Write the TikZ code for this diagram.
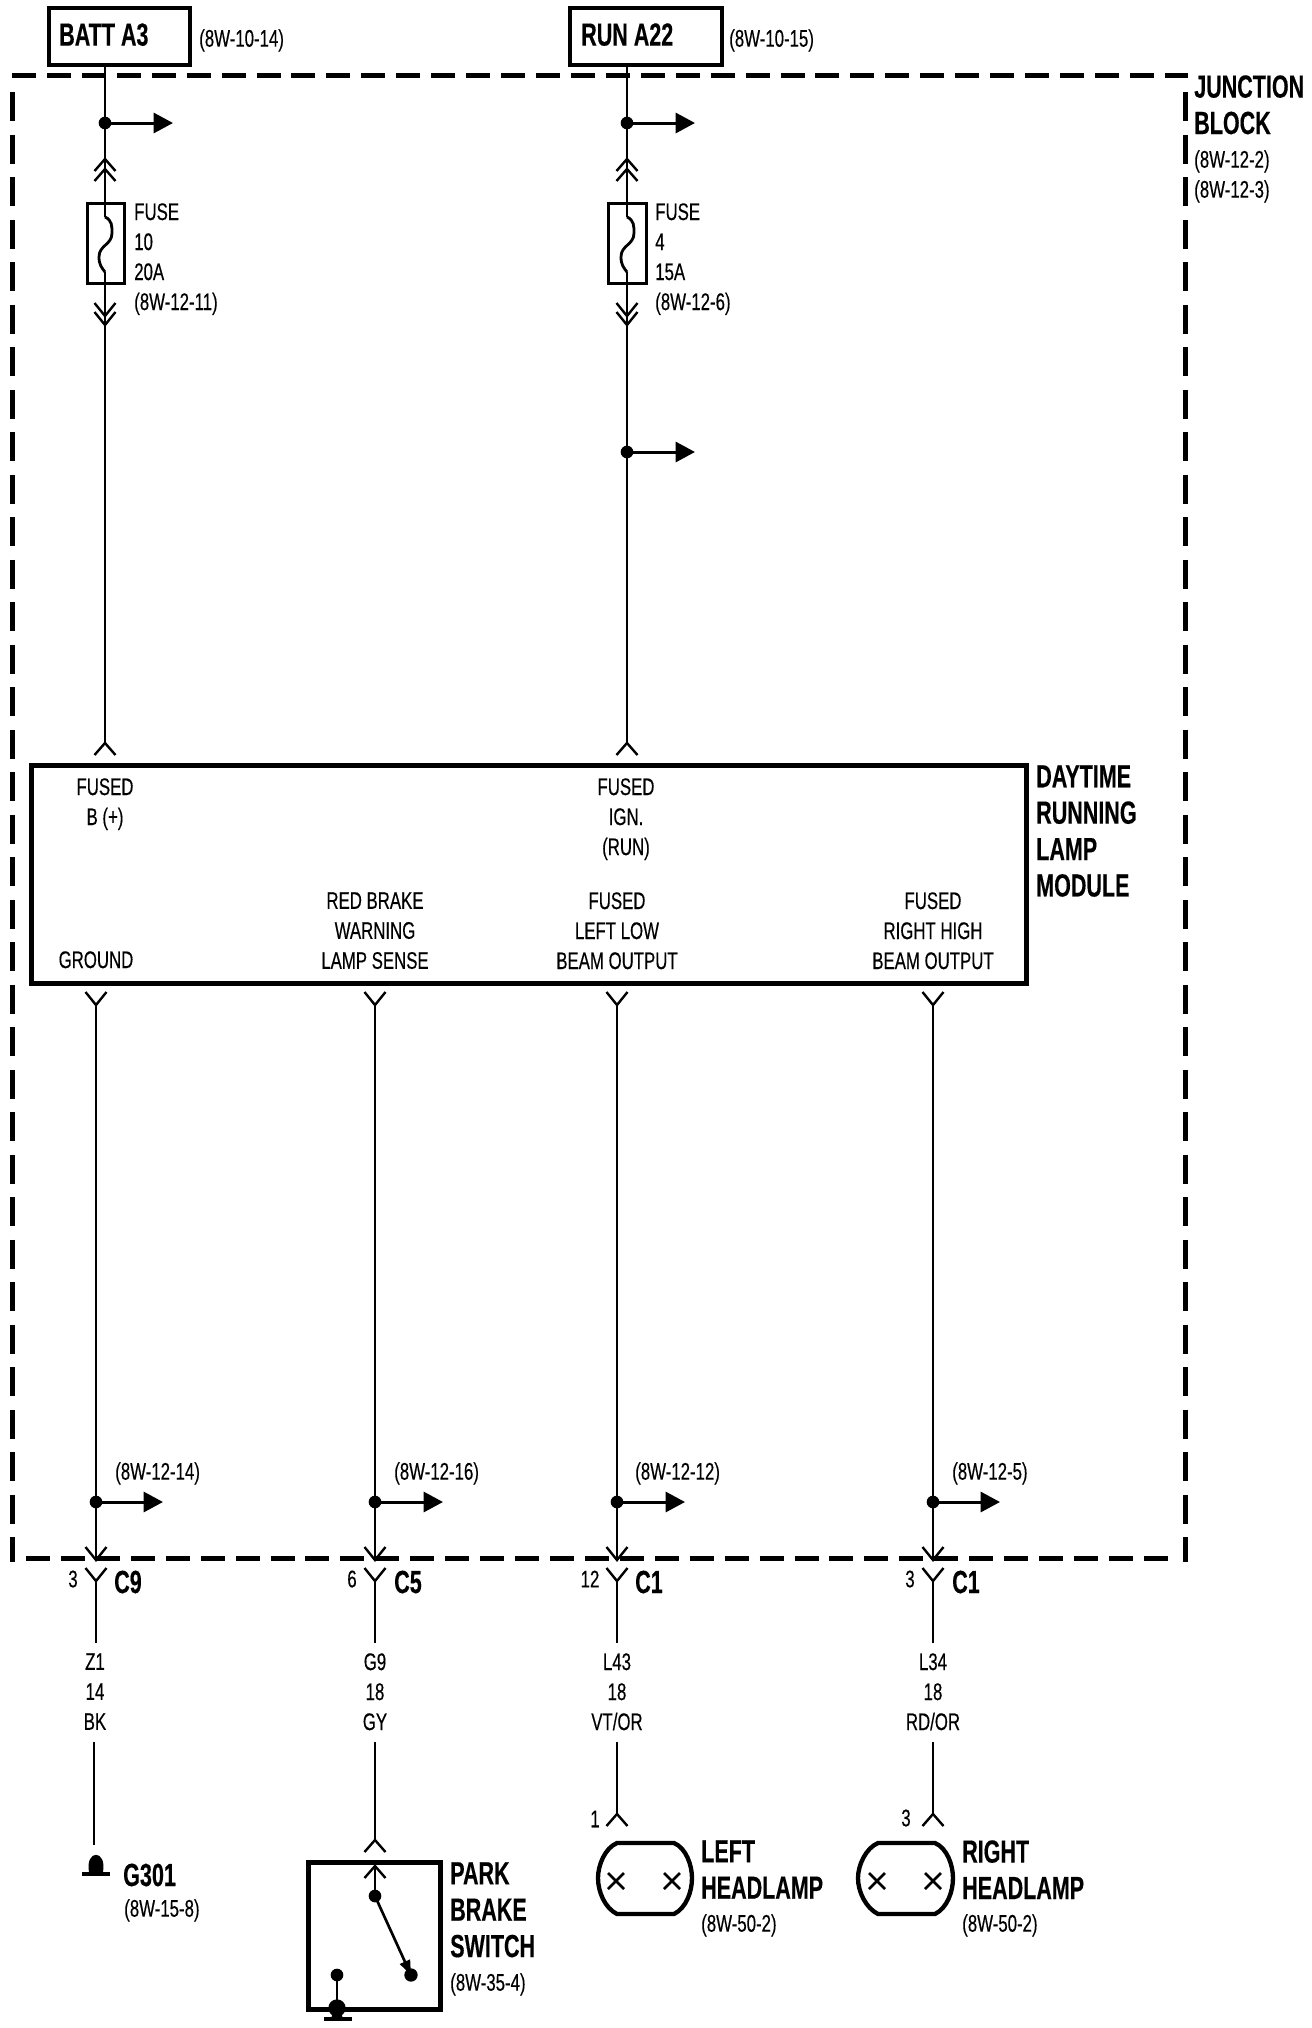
\documentclass[tikz,border=0pt]{standalone}
\usepackage{fontspec}
\usetikzlibrary{arrows.meta}
\newfontfamily\nar[FakeStretch=0.7,FakeBold=0.35]{Liberation Sans}
\newfontfamily\narh[FakeStretch=0.672,FakeBold=0.3]{Liberation Sans}
\newcommand{\forkUp}[2]{\draw[fork] (#1-10.5,#2+12) -- (#1,#2) -- (#1+10.5,#2+12);}
\newcommand{\forkDn}[2]{\draw[fork] (#1-10.5,#2-13) -- (#1,#2) -- (#1+10.5,#2-13);}
\tikzset{
  wire/.style={line width=2.1pt,line join=miter},
  fork/.style={line width=1.8pt,line join=miter},
  thinw/.style={line width=2pt},
  box/.style={draw,inner sep=0,outer sep=0,line width=#1},
  jdot/.style={circle,fill=black,inner sep=0,minimum size=9.5pt},
  tap/.style={line width=2.25pt,-{Triangle[length=14.5pt,width=15pt]}},
  lab/.style={font=\nar\fontsize{18}{22.5}\selectfont,inner sep=0,align=center},
  labl/.style={lab,align=left,anchor=north west},
  hd/.style={font=\narh\bfseries\fontsize{24}{27.3}\selectfont,inner sep=0,align=left,anchor=north west},
  dashH/.style={line width=3.75pt,dash pattern=on 18pt off 8.2pt},
  dashV/.style={line width=3.75pt,dash pattern=on 21.75pt off 10.125pt},
}
\begin{document}
\begin{tikzpicture}[x=0.75pt,y=-0.75pt]
\useasboundingbox (0,0) rectangle (1312,2028);
\fill[white] (0,0) rectangle (1312,2028);
% junction block outline
\draw[dashH] (12,75) -- (1188,75);
\draw[dashV] (12,92) -- (12,1562);
\draw[dashV] (1185,92) -- (1185,1562);
\draw[dashH] (26,1558) -- (1170,1558);
% top boxes
\node[box=2.75pt,minimum width=105.75pt,minimum height=42.75pt] (batt) at (119.5,36.5) {};
\node[box=2.75pt,minimum width=114pt,minimum height=42.75pt] (run) at (646,36.5) {};
\node[hd] (battt) at (59,23) {BATT A3};
\node[hd] (runt) at (581,23) {RUN A22};
\node[labl] (battr) at (199,29) {(8W-10-14)};
\node[labl] (runr) at (729,29) {(8W-10-15)};
% fuses
\node[box=2.25pt,minimum width=27.75pt,minimum height=60pt] (fuse1) at (105.5,243) {};
\node[box=2.25pt,minimum width=28.5pt,minimum height=60pt] (fuse2) at (627,243) {};
\node[labl] (fl1) at (134,203) {FUSE\\10\\20A\\(8W-12-11)};
\node[labl] (fl2) at (655,203) {FUSE\\4\\15A\\(8W-12-6)};
% module
\node[box=3.75pt,minimum width=746.25pt,minimum height=163.5pt] (mod) at (528.5,874) {};
\node[lab,anchor=north] (m1) at (105,778) {FUSED\\B (+)};
\node[lab,anchor=north] (m2) at (626,778) {FUSED\\IGN.\\(RUN)};
\node[lab,anchor=north] (m3) at (96,951) {GROUND};
\node[lab,anchor=north] (m4) at (375,892) {RED BRAKE\\WARNING\\LAMP SENSE};
\node[lab,anchor=north] (m5) at (617,892) {FUSED\\LEFT LOW\\BEAM OUTPUT};
\node[lab,anchor=north] (m6) at (933,892) {FUSED\\RIGHT HIGH\\BEAM OUTPUT};
\node[hd] (modt) at (1036,765) {DAYTIME\\RUNNING\\LAMP\\MODULE};
\node[hd] (jb) at (1194,75) {JUNCTION\\BLOCK};
\node[labl] (jbr) at (1194,150) {(8W-12-2)\\(8W-12-3)};
% dots
\node[jdot] (d1) at (105,123) {};
\node[jdot] (d2) at (627,123) {};
\node[jdot] (d3) at (627,452) {};
\node[jdot] (e1) at (96,1502) {};
\node[jdot] (e2) at (375,1502) {};
\node[jdot] (e3) at (617,1502) {};
\node[jdot] (e4) at (933,1502) {};
\coordinate (t1) at (173,123);
\coordinate (t2) at (695,123);
\coordinate (t3) at (695,452);
\coordinate (u1) at (163,1502);
\coordinate (u2) at (443,1502);
\coordinate (u3) at (685,1502);
\coordinate (u4) at (1000,1502);
\foreach \a/\b in {d1/t1,d2/t2,d3/t3,e1/u1,e2/u2,e3/u3,e4/u4}{\draw[tap] (\a.center) -- (\b);}
% top wires
\coordinate (fa1) at (105,217); \coordinate (fb1) at (105,272); \coordinate (ap1) at (105,743);
\coordinate (fa2) at (627,217); \coordinate (fb2) at (627,272); \coordinate (ap2) at (627,743);
\draw[wire] (d1 |- batt.south) -- (d1.center) -- (fa1);
\draw[wire] (fb1) -- (ap1);
\draw[wire] (d2 |- run.south) -- (d2.center) -- (fa2);
\draw[wire] (fb2) -- (d3.center) -- (ap2);
\foreach \x in {105,627}{
  \draw[wire] (\x,217) .. controls (\x+7,220) and (\x+7,226) .. (\x+7,233) .. controls (\x+7,245) and (\x-6,245) .. (\x-6,257) .. controls (\x-6,265) and (\x-3,268) .. (\x,272);
  \forkUp{\x}{159}\forkUp{\x}{169}
  \forkDn{\x}{325}\forkDn{\x}{316}
  \forkUp{\x}{743}
}
% lower wires
\foreach \x in {96,375,617,933}{
  \forkDn{\x}{1005}
  \forkDn{\x}{1560}
  \forkDn{\x}{1581}
}
\draw[wire] (96,1005) -- (e1.center) -- (96,1560);
\draw[wire] (375,1005) -- (e2.center) -- (375,1560);
\draw[wire] (617,1005) -- (e3.center) -- (617,1560);
\draw[wire] (933,1005) -- (e4.center) -- (933,1560);
\draw[wire] (96,1581) -- (96,1643);
\draw[wire] (375,1581) -- (375,1643);
\draw[wire] (617,1581) -- (617,1643);
\draw[wire] (933,1581) -- (933,1643);
% page refs
\node[labl] (r1) at (115,1462) {(8W-12-14)};
\node[labl] (r2) at (394,1462) {(8W-12-16)};
\node[labl] (r3) at (635,1462) {(8W-12-12)};
\node[labl] (r4) at (952,1462) {(8W-12-5)};
% pins and connectors
\node[lab] (p1) at (73,1579) {3};
\node[lab] (p2) at (352,1579) {6};
\node[lab] (p3) at (590,1579) {12};
\node[lab] (p4) at (910,1579) {3};
\node[hd,anchor=west] (c1) at (114,1582) {C9};
\node[hd,anchor=west] (c2) at (394,1582) {C5};
\node[hd,anchor=west] (c3) at (635,1582) {C1};
\node[hd,anchor=west] (c4) at (952,1582) {C1};
% wire codes
\node[lab,anchor=north] (w1) at (95,1653) {Z1\\14\\BK};
\node[lab,anchor=north] (w2) at (375,1653) {G9\\18\\GY};
\node[lab,anchor=north] (w3) at (617,1653) {L43\\18\\VT/OR};
\node[lab,anchor=north] (w4) at (933,1653) {L34\\18\\RD/OR};
% ground G301
\coordinate (g1) at (94,1845);
\draw[wire] (94,1742) -- (g1);
\fill (89,1872) .. controls (85,1849) and (107,1849) .. (103,1872) -- cycle;
\draw[line width=3pt] (82,1874) -- (110,1874);
\node[hd,anchor=west] (g) at (123,1875) {G301};
\node[labl] (gr) at (124,1899) {(8W-15-8)};
% park brake switch
\coordinate (s0) at (375,1840);
\draw[wire] (375,1742) -- (s0);
\forkUp{375}{1840}
\node[box=3.75pt,minimum width=99pt,minimum height=110.25pt] (sw) at (374,1935.5) {};
\node[jdot] (s1) at (375,1896) {};
\node[jdot,minimum size=10pt] (s2) at (411,1975) {};
\node[jdot] (s3) at (337,1975) {};
\node[jdot,minimum size=13pt] (s4) at (337,2008) {};
\forkUp{375}{1866}
\draw[wire] (375,1866) -- (s1.center);
\draw[line width=2pt,-{Triangle[length=11pt,width=8pt]}] (s1.center) -- (s2.center);
\draw[wire] (s3.center) -- (s4.center);
\draw[line width=3.5pt] (324,2019) -- (352,2019);
\fill (331,2019) -- (343,2019) -- (340,2008) -- (334,2008) -- cycle;
\node[hd] (st) at (450,1862) {PARK\\BRAKE\\SWITCH};
\node[labl] (sr) at (450,1973) {(8W-35-4)};
% headlamps
\draw[wire] (617,1742) -- (617,1814);
\forkUp{617}{1814}
\draw[wire] (933,1742) -- (933,1814);
\forkUp{933}{1814}
\node[lab] (p5) at (595,1819) {1};
\node[lab] (p6) at (906,1818) {3};
\draw[line width=3.25pt] (617,1843) -- (674,1843) .. controls (686,1848) and (692,1865) .. (692,1878) .. controls (692,1892) and (686,1908) .. (674,1914) -- (617,1914) .. controls (605,1908) and (598,1892) .. (598,1878) .. controls (598,1865) and (605,1848) .. (617,1843) -- cycle;
\draw[line width=3.25pt] (878,1843) -- (935,1843) .. controls (947,1848) and (953,1865) .. (953,1878) .. controls (953,1892) and (947,1908) .. (935,1914) -- (878,1914) .. controls (866,1908) and (858,1892) .. (858,1878) .. controls (858,1865) and (866,1848) .. (878,1843) -- cycle;
\foreach \x in {616,672,877,933}{
  \draw[thinw] (\x-8,1873) -- (\x+8,1889);
  \draw[thinw] (\x+8,1873) -- (\x-8,1889);
}
\node[hd] (ll) at (701,1840) {LEFT\\HEADLAMP};
\node[labl] (lr) at (701,1914) {(8W-50-2)};
\node[hd] (rl) at (962,1840) {RIGHT\\HEADLAMP};
\node[labl] (rr) at (962,1914) {(8W-50-2)};
\end{tikzpicture}
\end{document}
